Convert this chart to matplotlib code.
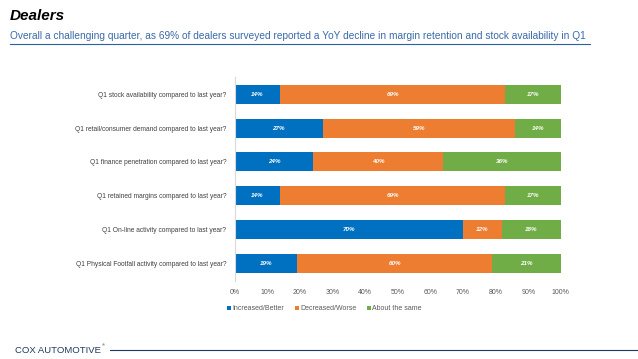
import matplotlib
matplotlib.use("Agg")
import matplotlib.pyplot as plt
import numpy as np

plt.rcParams['font.family'] = ['Liberation Sans', 'DejaVu Sans']

questions = ["Q1 Physical Footfall activity compared to last year?",
             "Q1 On-line activity compared to last year?",
             "Q1 retained margins compared to last year?",
             "Q1 finance penetration compared to last year?",
             "Q1 retail/consumer demand compared to last year?",
             "Q1 stock availability compared to last year?"]
better = [19, 70, 14, 24, 27, 14]
worse = [60, 12, 69, 40, 59, 69]
same = [21, 18, 17, 36, 14, 17]
series = ["Increased/Better", "Decreased/Worse", "About the same"]
colors = ["#0070C0", "#ED7D31", "#70AD47"]
xticks = [0, 10, 20, 30, 40, 50, 60, 70, 80, 90, 100]

fig = plt.figure(figsize=(6.38, 3.59), dpi=100)
ax = fig.add_axes([0.368, 0.218, 0.511, 0.567])

ind = np.arange(len(questions))
left = np.zeros(len(questions))
for vals, c, name in zip([better, worse, same], colors, series):
    vals = np.array(vals)
    ax.barh(ind, vals, 0.56, left=left, color=c, label=name)
    for y, (l, v) in enumerate(zip(left, vals)):
        ax.text(l + v / 2, y, f"{v}%", color="white", ha="center", va="center",
                fontsize=4.5, style="italic", fontweight="bold")
    left = left + vals

ax.set_xlim(0, 100)
ax.set_ylim(-0.5, 5.5)
ax.set_xticks(xticks)
ax.set_xticklabels([f"{t}%" for t in xticks], fontsize=5, color="#595959")
ax.set_yticks(ind)
ax.set_yticklabels(questions, fontsize=4.8, color="#404040")
ax.tick_params(length=0, pad=6)
for s in ["top", "right", "bottom"]:
    ax.spines[s].set_visible(False)
ax.spines["left"].set_color("#d9d9d9")
ax.spines["left"].set_linewidth(0.8)

ax.legend(loc="upper center", bbox_to_anchor=(0.275, -0.09), ncol=3, frameon=False,
          fontsize=5, handlelength=0.6, handleheight=0.6, handletextpad=0.2,
          columnspacing=1.5, labelcolor="#595959")

fig.text(0.016, 0.955, "Dealers", fontsize=11, fontweight="bold", style="italic",
         va="center", color="black")
fig.text(0.016, 0.9, "Overall a challenging quarter, as 69% of dealers surveyed reported a YoY decline in margin retention and stock availability in Q1",
         fontsize=7.3, va="center", color="#3a6aa8")
fig.add_artist(plt.Line2D([0.016, 0.925], [0.877, 0.877], color="#2f5f9e", lw=0.8))

fig.text(0.024, 0.025, "COX AUTOMOTIVE", fontsize=6.8, color="#1f3a5f", va="center")
fig.text(0.16, 0.037, "\u00ae", fontsize=3, color="#1f3a5f", va="center")
fig.add_artist(plt.Line2D([0.172, 1.0], [0.025, 0.025], color="#1f3a5f", lw=0.8))

fig.savefig("out.png", dpi=100)
